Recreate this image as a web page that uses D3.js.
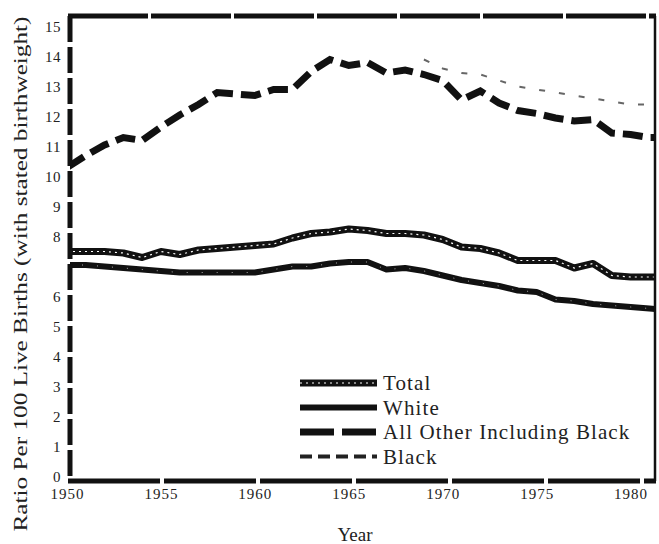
<!DOCTYPE html>
<html>
<head>
<meta charset="utf-8">
<script src="https://cdn.jsdelivr.net/npm/d3@7"></script>
<style>
  html, body { margin: 0; padding: 0; background: #fff; }
  svg { display: block; }
  text { font-family: "Liberation Serif", "DejaVu Serif", serif; fill: #222; }
</style>
</head>
<body>
<svg id="chart" width="659" height="544"></svg>
<script>
// ---- data ----
const years = [1950,1951,1952,1953,1954,1955,1956,1957,1958,1959,1960,1961,1962,1963,1964,1965,1966,1967,1968,1969,1970,1971,1972,1973,1974,1975,1976,1977,1978,1979,1980,1981,1982];
const total = [7.5,7.5,7.5,7.45,7.3,7.5,7.4,7.55,7.6,7.65,7.7,7.75,7.95,8.1,8.15,8.25,8.2,8.1,8.1,8.05,7.9,7.65,7.6,7.45,7.2,7.2,7.2,6.95,7.1,6.7,6.65,6.65,6.65];
const white = [7.05,7.05,7.0,6.95,6.9,6.85,6.8,6.8,6.8,6.8,6.8,6.9,7.0,7.0,7.1,7.15,7.15,6.9,6.95,6.85,6.7,6.55,6.45,6.35,6.2,6.15,5.9,5.85,5.75,5.7,5.65,5.6,5.55];
const allOther = [10.3,10.7,11.05,11.3,11.2,11.65,12.05,12.4,12.8,12.75,12.7,12.9,12.9,13.5,13.9,13.7,13.8,13.45,13.55,13.4,13.2,12.55,12.85,12.45,12.2,12.1,11.95,11.85,11.9,11.45,11.4,11.3,11.3];
const blackYears = [1969,1970,1971,1972,1973,1974,1975,1976,1977,1978,1979,1980,1981,1982];
const black = [13.9,13.6,13.45,13.4,13.2,13.0,12.9,12.8,12.7,12.6,12.5,12.4,12.4,12.4];
const xTicks = [1950,1955,1960,1965,1970,1975,1980];
const yTicks = [0,1,2,3,4,5,6,8,9,10,11,12,13,14,15];
const legendLabels = ["Total","White","All Other Including Black","Black"];
const yTitle = "Ratio Per 100 Live Births (with stated birthweight)";
const xTitle = "Year";

// ---- layout ----
const svg = d3.select("#chart");
const frame = {left: 70, right: 655, top: 16, bottom: 481};
const x = d3.scaleLinear().domain([1950, 1981.3]).range([67, 655]);
const y = d3.scaleLinear().domain([-0.15, 15.35]).range([481, 16]);

svg.append("defs").append("clipPath").attr("id","plotclip")
  .append("rect").attr("x", frame.left).attr("y", frame.top)
  .attr("width", frame.right - frame.left).attr("height", frame.bottom - frame.top);

const line = d3.line().x(d => x(d[0])).y(d => y(d[1])).curve(d3.curveLinear);
const plot = svg.append("g").attr("clip-path","url(#plotclip)");

const totalPts = years.map((yr,i) => [yr, total[i]]);
const whitePts = years.map((yr,i) => [yr, white[i]]);
const otherPts = years.map((yr,i) => [yr, allOther[i]]);
const blackPts = blackYears.map((yr,i) => [yr, black[i]]);

// White: solid thick
plot.append("path").datum(whitePts).attr("d", line)
  .attr("fill","none").attr("stroke","#111").attr("stroke-width",6).attr("stroke-linejoin","round");
plot.append("path").datum(whitePts).attr("d", line)
  .attr("fill","none").attr("stroke","#fff").attr("stroke-width",0.8).attr("stroke-dasharray","1,14").attr("opacity",0.8);
// Total: thick with white speckles
plot.append("path").datum(totalPts).attr("d", line)
  .attr("fill","none").attr("stroke","#111").attr("stroke-width",7).attr("stroke-linejoin","round");
plot.append("path").datum(totalPts).attr("d", line)
  .attr("fill","none").attr("stroke","#fff").attr("stroke-width",1.2).attr("stroke-dasharray","2,4");
// All other: thick dashed
plot.append("path").datum(otherPts).attr("d", line)
  .attr("fill","none").attr("stroke","#111").attr("stroke-width",7).attr("stroke-dasharray","20,8");
// Black: faint broken dotted
plot.append("path").datum(blackPts).attr("d", line)
  .attr("fill","none").attr("stroke","#666").attr("stroke-width",2).attr("stroke-dasharray","6,14");

// ---- frame ----
const fr = svg.append("g");
fr.append("line").attr("x1",frame.left-2).attr("x2",frame.right+1).attr("y1",frame.top).attr("y2",frame.top)
  .attr("stroke","#111").attr("stroke-width",5).attr("stroke-dasharray","80,3");
fr.append("line").attr("x1",frame.left-2).attr("x2",frame.right+1).attr("y1",frame.bottom).attr("y2",frame.bottom)
  .attr("stroke","#111").attr("stroke-width",5).attr("stroke-dasharray","92,4");
fr.append("line").attr("x1",frame.left).attr("x2",frame.left).attr("y1",frame.top).attr("y2",frame.bottom)
  .attr("stroke","#111").attr("stroke-width",5).attr("stroke-dasharray","26,5");
fr.append("line").attr("x1",frame.right).attr("x2",frame.right).attr("y1",frame.top).attr("y2",frame.bottom)
  .attr("stroke","#111").attr("stroke-width",2.5);

// ---- axes ----
const yAxis = d3.axisLeft(y).tickValues(yTicks).tickSize(0).tickPadding(0).tickFormat(d3.format("d"));
const gy = svg.append("g").attr("transform","translate(61,0)").call(yAxis);
gy.select(".domain").remove();
gy.selectAll("text").style("font-size","15px").style("font-family","Liberation Serif, serif")
  .style("letter-spacing","0.5px").attr("fill","#333");

const xAxis = d3.axisBottom(x).tickValues(xTicks).tickSize(0).tickPadding(0).tickFormat(d3.format("d"));
const gx = svg.append("g").attr("transform","translate(0,488)").call(xAxis);
gx.select(".domain").remove();
gx.selectAll("text").style("font-size","15px").style("font-family","Liberation Serif, serif")
  .style("letter-spacing","1px").attr("fill","#333");

svg.append("text").attr("x",355).attr("y",541).attr("text-anchor","middle")
  .style("font-size","19px").text(xTitle);
svg.append("text").attr("transform","translate(27,274) rotate(-90)").attr("text-anchor","middle")
  .style("font-size","18px").attr("textLength",515).attr("lengthAdjust","spacingAndGlyphs").text(yTitle);

// ---- legend ----
const lg = svg.append("g").attr("transform","translate(300,383)");
const rowH = 24.5;
const sw = [
  {w:7, dash:null, col:"#111", inner:"2,4"},
  {w:6, dash:null, col:"#111", inner:null},
  {w:7, dash:"34,8", col:"#111", inner:null},
  {w:4, dash:"12,6", col:"#222", inner:null}
];
legendLabels.forEach((lab,i) => {
  const g = lg.append("g").attr("transform",`translate(0,${i*rowH})`);
  const l = g.append("line").attr("x1",0).attr("x2",77).attr("y1",0).attr("y2",0)
    .attr("stroke",sw[i].col).attr("stroke-width",sw[i].w);
  if (sw[i].dash) l.attr("stroke-dasharray", sw[i].dash);
  if (sw[i].inner) g.append("line").attr("x1",0).attr("x2",77).attr("y1",0).attr("y2",0)
    .attr("stroke","#fff").attr("stroke-width",1.2).attr("stroke-dasharray",sw[i].inner);
  g.append("text").attr("x",83).attr("y",7).style("font-size","21px").style("letter-spacing","1.1px").text(lab);
});
</script>
</body>
</html>
